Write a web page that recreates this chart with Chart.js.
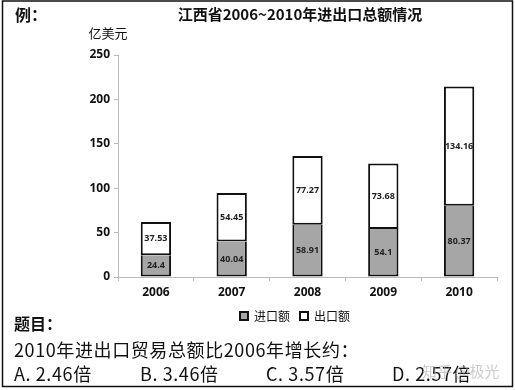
<!DOCTYPE html>
<html>
<head>
<meta charset="utf-8">
<script src="https://cdn.jsdelivr.net/npm/chart.js@4"></script>
<style>
  html, body { margin: 0; padding: 0; background: #fff; }
  #wrap { position: relative; width: 515px; height: 390px; }
</style>
</head>
<body>
<div id="wrap"><canvas id="chart" width="515" height="390"></canvas></div>
<script>
// chart data
const years = ['2006', '2007', '2008', '2009', '2010'];
const imports = [24.4, 40.04, 58.91, 54.1, 80.37];
const exports = [37.53, 54.45, 77.27, 73.68, 134.16];
const seriesNames = ['进口额', '出口额'];
const yTicks = [0, 50, 100, 150, 200, 250];

const chartTitle = '江西省2006~2010年进出口总额情况';
const unitLabel = '亿美元';
const question = '2010年进出口贸易总额比2006年增长约：';
const options = ['A. 2.46倍', 'B. 3.46倍', 'C. 3.57倍', 'D. 2.57倍'];

const numFont = '"Open Sans", Lato, sans-serif';
const cjkFont = '"Noto Sans CJK SC", sans-serif';

// value labels inside the bar segments
const barLabels = {
    id: 'barLabels',
    afterDatasetsDraw(chart) {
        const ctx = chart.ctx;
        ctx.save();
        ctx.font = 'bold 9px ' + numFont;
        ctx.fillStyle = '#222';
        ctx.textAlign = 'center';
        ctx.textBaseline = 'middle';
        chart.data.datasets.forEach(function (ds, i) {
            chart.getDatasetMeta(i).data.forEach(function (bar, j) {
                const mid = (bar.y + bar.base) / 2;
                ctx.fillText(String(ds.data[j]), bar.x, mid);
            });
        });
        ctx.restore();
    }
};

// legend sits a bit left of the plot centre in the original
const legendShift = {
    id: 'legendShift',
    afterLayout(chart) {
        chart.legend.left = 93;
    }
};

// surrounding texts and frame of the picture
const pageText = {
    id: 'pageText',
    afterDraw(chart) {
        const ctx = chart.ctx;
        ctx.save();
        ctx.strokeStyle = '#111';
        ctx.lineWidth = 1.5;
        ctx.strokeRect(2.5, 1, 510, 385.5);

        ctx.fillStyle = '#111';
        ctx.textBaseline = 'middle';
        ctx.textAlign = 'left';
        ctx.font = 'bold 16px ' + cjkFont;
        ctx.fillText('例：', 15, 15);
        ctx.fillText('题目：', 14, 324);

        ctx.textAlign = 'center';
        ctx.font = 'bold 15px ' + cjkFont;
        ctx.fillText(chartTitle, 300, 14);

        ctx.font = '13px ' + cjkFont;
        ctx.fillText(unitLabel, 108, 33);

        ctx.textAlign = 'left';
        ctx.font = '18px ' + cjkFont;
        ctx.letterSpacing = '0.6px';
        ctx.fillText(question, 14, 350);
        const optX = [14, 140, 266, 392];
        options.forEach(function (o, i) {
            ctx.fillText(o, optX[i], 374);
        });

        ctx.letterSpacing = '0px';
        ctx.fillStyle = 'rgba(170,170,170,0.6)';
        ctx.font = '15px ' + cjkFont;
        ctx.fillText('知乎 @极光', 422, 371);
        ctx.restore();
    }
};

new Chart(document.getElementById('chart'), {
    type: 'bar',
    data: {
        labels: years,
        datasets: [
            {
                label: seriesNames[0],
                data: imports,
                backgroundColor: '#a6a6a6',
                borderColor: '#111',
                borderWidth: 2,
                borderSkipped: 'end'
            },
            {
                label: seriesNames[1],
                data: exports,
                backgroundColor: '#fff',
                borderColor: '#111',
                borderWidth: 2,
                borderSkipped: false
            }
        ]
    },
    options: {
        responsive: false,
        animation: false,
        layout: { padding: { left: 68, right: 18, top: 55, bottom: 58 } },
        datasets: { bar: { categoryPercentage: 1, barPercentage: 0.4 } },
        scales: {
            x: {
                stacked: true,
                afterFit: function (s) { s.height = 23; },
                grid: { drawOnChartArea: false, tickLength: 4, color: '#bbb' },
                border: { color: '#bbb' },
                ticks: { color: '#111', padding: 4, font: { family: numFont, size: 12, weight: 'bold' } }
            },
            y: {
                stacked: true,
                min: 0,
                max: 250,
                afterFit: function (s) { s.width = 50; },
                afterBuildTicks: function (s) { s.ticks = yTicks.map(function (v) { return { value: v }; }); },
                grid: { drawOnChartArea: false, tickLength: 4, color: '#bbb' },
                border: { color: '#bbb' },
                ticks: { color: '#111', padding: 4, font: { family: numFont, size: 12, weight: 'bold' } }
            }
        },
        plugins: {
            title: { display: false },
            tooltip: { enabled: false },
            legend: {
                position: 'bottom',
                labels: {
                    boxWidth: 8,
                    boxHeight: 8,
                    padding: 10,
                    color: '#111',
                    font: { family: cjkFont, size: 12 }
                }
            }
        }
    },
    plugins: [barLabels, legendShift, pageText]
});
</script>
</body>
</html>
